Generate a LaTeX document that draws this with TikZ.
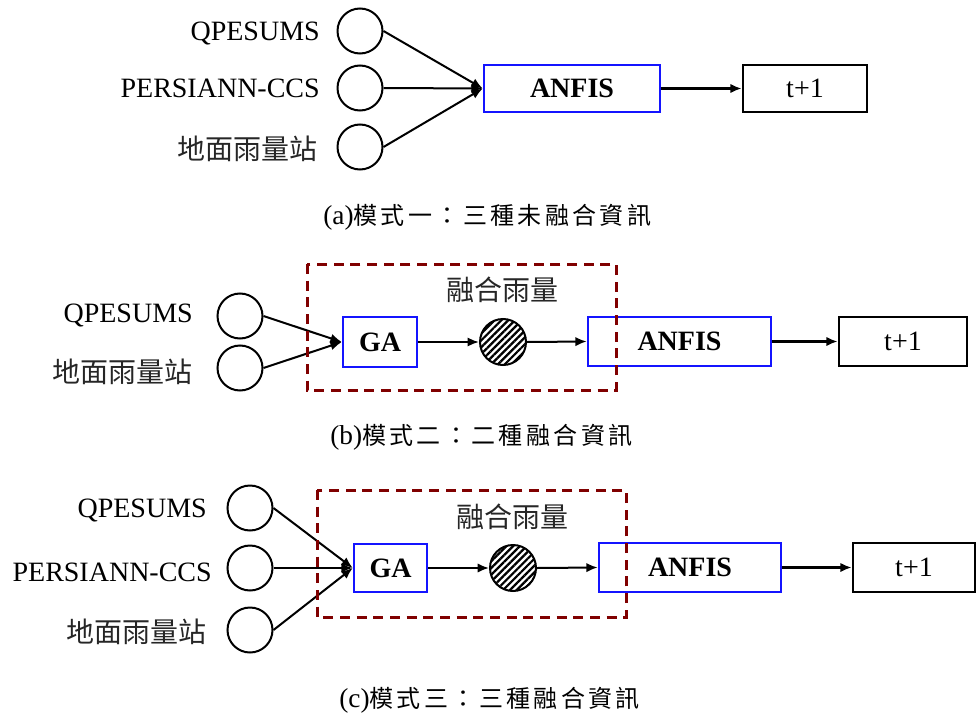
\documentclass[tikz,border=0pt]{standalone}
\usepackage{fontspec}
\setmainfont{Liberation Serif}
\newfontfamily\cjk{Noto Sans CJK TC}
\newfontfamily\cjkcap[LetterSpace=14]{Noto Sans CJK TC}
\usetikzlibrary{arrows.meta,patterns.meta}
\definecolor{fusered}{RGB}{128,0,0}
\definecolor{boxblue}{RGB}{20,20,255}
\begin{document}
\begin{tikzpicture}[x=0.75pt,y=-0.75pt,
  every node/.style={font=\fontsize{21}{24}\selectfont},
  sz/.style 2 args={minimum width={#1*0.75pt},minimum height={#2*0.75pt}},
  src/.style={circle,draw,line width=1.5pt,minimum size=33.75pt,inner sep=0pt},
  hatch/.style={circle,draw,line width=1.5pt,minimum size=34.5pt,inner sep=0pt,
    pattern={Lines[angle=45,distance=3.6pt,line width=1.7pt]}},
  bluebox/.style={draw=boxblue,line width=1.9pt,inner sep=0pt,
    font=\fontsize{21}{24}\selectfont\bfseries},
  outbox/.style={draw,line width=1.9pt,inner sep=0pt},
  lbl/.style={anchor=east,inner sep=0pt,text height=13.8pt,text depth=0pt},
  cjklbl/.style={anchor=east,inner sep=0pt,text height=14.7pt,text depth=0pt,
    font=\cjk\fontsize{21}{24}\selectfont,text=black!85},
  fusetxt/.style={inner sep=0pt,font=\cjk\fontsize{21}{24}\selectfont,text=black!85},
  captxt/.style={anchor=west,inner sep=0pt,text height=14pt,text depth=0pt},
  arr/.style={-{Latex[length=8.5pt,width=7pt]},line width=1.5pt},
  tarr/.style={-{Latex[length=8.5pt,width=7pt]},line width=2.25pt},
  fuse/.style={draw=fusered,line width=2.25pt,dash pattern=on 7.5pt off 5pt}
]
\useasboundingbox (0,0) rectangle (977,713);

% ---------------- (a) ----------------
\node[src] (a1) at (360,31) {};
\node[src] (a2) at (360,88) {};
\node[src] (a3) at (360,147) {};
\node[lbl] (la1) at (320,31) {QPESUMS};
\node[lbl] (la2) at (320,88) {PERSIANN-CCS};
\node[cjklbl] (la3) at (318,150) {地面雨量站};
\node[bluebox,sz={176}{47}] (anfa) at (572,88.5) {ANFIS};
\node[outbox,sz={124}{47}] (ta) at (805,88.5) {t+1};
\draw[arr] (a1.east) -- (anfa.west);
\draw[arr] (a2.east) -- (anfa.west);
\draw[arr] (a3.east) -- (anfa.west);
\draw[tarr] (anfa.east) -- (ta.west);
\node[captxt] (capa) at (323,215) {\fontsize{20.5}{24}\selectfont(a)\cjkcap\fontsize{18}{20}\selectfont 模式一：三種未融合資訊};

% ---------------- (b) ----------------
\node[src] (b1) at (240,316) {};
\node[src] (b2) at (240,368) {};
\node[lbl] (lb1) at (193,313) {QPESUMS};
\node[cjklbl] (lb2) at (193,373) {地面雨量站};
\node[bluebox,sz={74}{50}] (gab) at (380,342) {GA};
\node[hatch] (hb) at (503,342) {};
\node[bluebox,sz={183}{49}] (anfb) at (679.5,341.5) {ANFIS};
\node[outbox,sz={128}{49}] (tb) at (903,341.5) {t+1};
\draw[arr] (b1.east) -- (gab.west);
\draw[arr] (b2.east) -- (gab.west);
\draw[arr] (gab.east) -- (hb.west);
\draw[arr] (hb.east) -- (anfb.west);
\draw[tarr] (anfb.east) -- (tb.west);
\draw[fuse] (307,264) rectangle (616,390);
\node[fusetxt] (fb) at (502,290) {融合雨量};
\node[captxt] (capb) at (330,435) {\fontsize{20.5}{24}\selectfont(b)\cjkcap\fontsize{18}{20}\selectfont 模式二：二種融合資訊};

% ---------------- (c) ----------------
\node[src] (c1) at (250,508) {};
\node[src] (c2) at (250,568) {};
\node[src] (c3) at (250,630) {};
\node[lbl] (lc1) at (207,508) {QPESUMS};
\node[lbl] (lc2) at (212,572) {PERSIANN-CCS};
\node[cjklbl] (lc3) at (207,633) {地面雨量站};
\node[bluebox,sz={73}{48}] (gac) at (390.5,568) {GA};
\node[hatch] (hc) at (513,568) {};
\node[bluebox,sz={182}{49}] (anfc) at (690,567.5) {ANFIS};
\node[outbox,sz={122}{49}] (tc) at (914,567.5) {t+1};
\draw[arr] (c1.east) -- (gac.west);
\draw[arr] (c2.east) -- (gac.west);
\draw[arr] (c3.east) -- (gac.west);
\draw[arr] (gac.east) -- (hc.west);
\draw[arr] (hc.east) -- (anfc.west);
\draw[tarr] (anfc.east) -- (tc.west);
\draw[fuse] (317,490) rectangle (626,617);
\node[fusetxt] (fc) at (512,517) {融合雨量};
\node[captxt] (capc) at (339,698) {\fontsize{20.5}{24}\selectfont(c)\cjkcap\fontsize{18}{20}\selectfont 模式三：三種融合資訊};
\end{tikzpicture}
\end{document}
